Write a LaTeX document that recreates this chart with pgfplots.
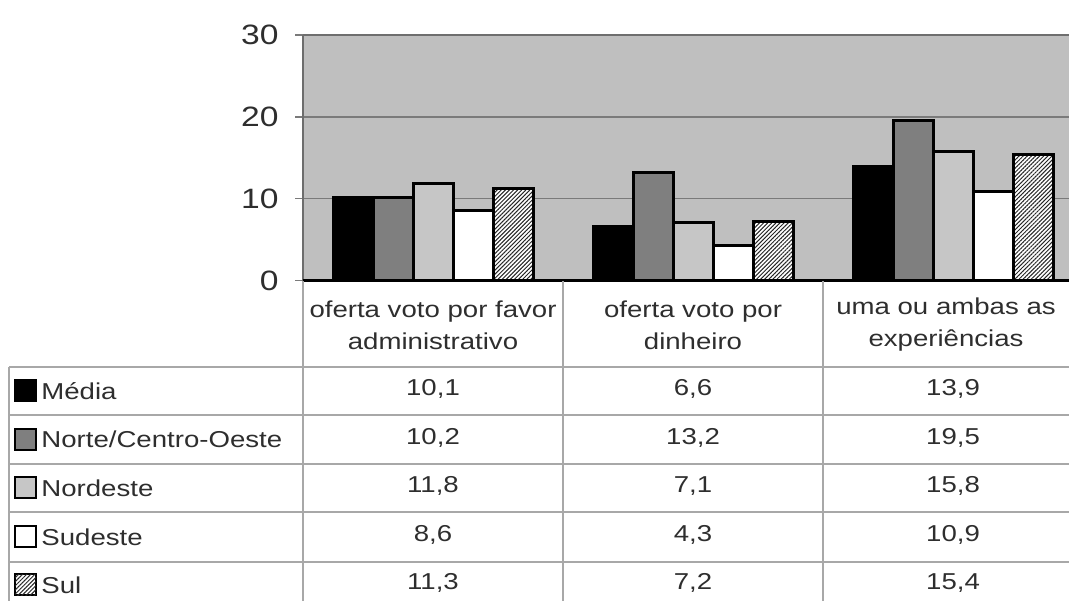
\documentclass[border=0pt]{standalone}
\usepackage{pgfplots}
\pgfplotsset{compat=1.18}
\usepackage{pgfplotstable}
\usepackage{fontspec}
\setmainfont[FakeStretch=1.2]{Liberation Sans}
\usetikzlibrary{patterns,patterns.meta}

% Percentages by region, one row per category
\pgfplotstableread{
x media norte nordeste sudeste sul
0 10.1 10.2 11.8 8.6 11.3
1 6.6 13.2 7.1 4.3 7.2
2 13.9 19.5 15.8 10.9 15.4
}\votos

\definecolor{plotbg}{HTML}{BFBFBF}
\definecolor{midgray}{HTML}{7F7F7F}
\definecolor{lightbar}{HTML}{C6C6C6}
\definecolor{gridgray}{HTML}{7A7A7A}
\definecolor{tablegray}{HTML}{A8A8A8}
\definecolor{txt}{HTML}{2E2E2E}

\tikzset{
  hatch/.style={fill=white, postaction={pattern={Lines[angle=45,distance=1.45pt,line width=0.5pt]}, pattern color=black!85}},
}

\begin{document}
\begin{tikzpicture}[x=0.5pt,y=0.5pt]
\begin{axis}[
  at={(151.5pt,160.25pt)}, anchor=south west,
  scale only axis, width=390pt, height=122.75pt,
  xmin=-0.5, xmax=2.5, ymin=0, ymax=30,
  ybar=0pt, bar width=20pt,
  axis background/.style={fill=plotbg},
  axis line style={draw=none},
  xtick=\empty,
  ytick={0,10,20,30},
  ytick pos=left, tick align=outside, major tick length=4pt,
  ytick style={draw=gridgray, line width=0.7pt},
  ymajorgrids, grid style={draw=gridgray, line width=0.7pt},
  /pgf/number format/assume math mode=true,
  yticklabel style={font=\fontsize{14}{16}\selectfont, text=txt, inner sep=0pt, xshift=-8pt},
  every axis plot/.append style={draw=black, line width=1.5pt},
  clip=false,
]
\addplot[fill=black] table[x=x, y=media] {\votos};
\addplot[fill=midgray] table[x=x, y=norte] {\votos};
\addplot[fill=lightbar] table[x=x, y=nordeste] {\votos};
\addplot[fill=white] table[x=x, y=sudeste] {\votos};
\addplot[hatch] table[x=x, y=sul] {\votos};
% frame of the plot area
\draw[draw=gridgray!90!black, line width=1pt] (axis cs:-0.5,30) -- (axis cs:2.5,30);
\draw[draw=gridgray!110, line width=1pt] (axis cs:-0.5,0) -- (axis cs:-0.5,30);
\draw[draw=black, line width=1.5pt] (axis cs:-0.5,0) -- (axis cs:2.5,0);
\end{axis}

% data table under the chart
\begin{scope}[draw=tablegray, line width=0.6pt]
  \foreach \yy in {234,186,137,89,39} \draw (9,\yy) -- (1069,\yy);
  \draw (9,234) -- (9,0);
  \foreach \xx in {303,563,823} \draw (\xx,320) -- (\xx,0);
\end{scope}

\begin{scope}[every node/.style={text=txt, font=\fontsize{11.5}{16}\selectfont, align=center}]
  \node at (433,276) {oferta voto por favor\\administrativo};
  \node at (693,276) {oferta voto por\\dinheiro};
  \node at (946,276) {uma ou ambas as\\experiências};

  \foreach \col [count=\r from 0] in {media,norte,nordeste,sudeste,sul} {
    \foreach \c in {0,1,2} {
      \pgfplotstablegetelem{\c}{\col}\of\votos
      \node at ({433+260*\c},{212-48.5*\r})
        {\pgfmathprintnumber[use comma, fixed, fixed zerofill, precision=1, assume math mode=true]{\pgfplotsretval}};
    }
  }
\end{scope}

% row labels with their key squares
\begin{scope}[every node/.style={text=txt, font=\fontsize{11.5}{16}\selectfont, anchor=west, inner sep=0pt}]
  \draw[fill=black, draw=black, line width=1pt] (15,200) rectangle (36,221);
  \node at (41,210) {Média};
  \draw[fill=midgray, draw=black, line width=1pt] (15,151.5) rectangle (36,172.5);
  \node at (41,161.5) {Norte/Centro-Oeste};
  \draw[fill=lightbar, draw=black, line width=1pt] (15,103) rectangle (36,124);
  \node at (41,113) {Nordeste};
  \draw[fill=white, draw=black, line width=1pt] (15,54) rectangle (36,75);
  \node at (41,64) {Sudeste};
  \draw[hatch, draw=black, line width=1pt] (15,6) rectangle (36,27);
  \node at (41,16) {Sul};
\end{scope}

\pgfresetboundingbox
\useasboundingbox (0,0) rectangle (1069,601);
\end{tikzpicture}
\end{document}
